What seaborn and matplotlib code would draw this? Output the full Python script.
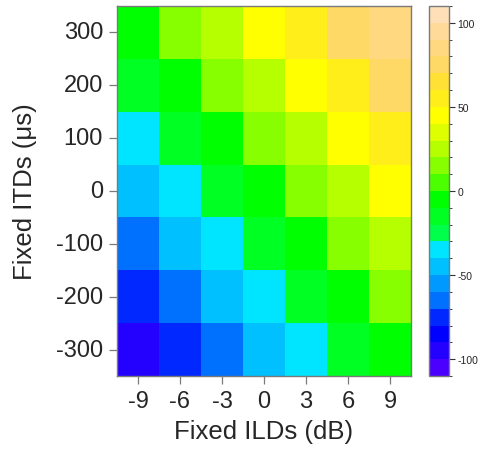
import numpy as np
import pandas as pd
import matplotlib
matplotlib.use("Agg")
import matplotlib.pyplot as plt
from matplotlib.colors import ListedColormap, BoundaryNorm
import seaborn as sns

# ---- data ----
ilds = [-9, -6, -3, 0, 3, 6, 9]                       # Fixed ILDs (dB), columns
itds = [300, 200, 100, 0, -100, -200, -300]            # Fixed ITDs (us), rows top->bottom
row_300 = [-4, 14, 26, 46, 56, 76, 86]
row_200 = [-14, -5, 15, 24, 44, 55, 74]
row_100 = [-36, -15, -6, 16, 26, 45, 56]
row_0 = [-45, -35, -14, -4, 14, 24, 46]
row_m100 = [-66, -44, -34, -15, -6, 15, 26]
row_m200 = [-76, -64, -46, -36, -16, -5, 16]
row_m300 = [-95, -74, -65, -45, -35, -15, -4]
cbar_ticks = [-100, -50, 0, 50, 100]

# ---- palette (22 discrete bands of 10 units from -110 to 110) ----
band_colors = [
    "#4B00FF", "#2400FF", "#0000FF", "#0028FF", "#0070FF", "#0099FF",
    "#00C0FF", "#00E5FF", "#00FF4A", "#00FF22", "#00FF00", "#4CFF00",
    "#88FF00", "#B5FF00", "#DDFF00", "#FFFF00", "#FFEE1A", "#FFE035",
    "#FFD966", "#FFD880", "#FFDA99", "#FFDFB8",
]
bounds = list(range(-110, 111, 10))
cmap = ListedColormap(band_colors)
norm = BoundaryNorm(bounds, cmap.N)

df = pd.DataFrame([row_300, row_200, row_100, row_0, row_m100, row_m200, row_m300],
                  index=itds, columns=ilds)

sns.set_style("white")
plt.rcParams["font.family"] = ["Liberation Sans", "DejaVu Sans"]
plt.rcParams["axes.unicode_minus"] = False

W, H = 481, 452
fig = plt.figure(figsize=(W / 100, H / 100), dpi=100)
ax = fig.add_axes([117 / W, 1 - 377 / H, 294 / W, 370 / H])
cax = fig.add_axes([429 / W, 1 - 377 / H, 20 / W, 370 / H])

sns.heatmap(df, ax=ax, cmap=cmap, norm=norm, cbar=True, cbar_ax=cax,
            linewidths=0, square=False,
            cbar_kws={"ticks": cbar_ticks})

frame_col = "#7a7a7a"
for sp in ax.spines.values():
    sp.set_visible(True)
    sp.set_color(frame_col)
    sp.set_linewidth(1.0)

ax.set_yticklabels([str(v) for v in itds], rotation=0)
ax.set_xticklabels([str(v) for v in ilds], rotation=0)
ax.tick_params(axis="both", which="major", labelsize=17, length=6,
               width=0.9, color=frame_col, pad=4, direction="out",
               left=True, bottom=True)
ax.set_xlabel("Fixed ILDs (dB)", fontsize=18.5, labelpad=5)
ax.set_ylabel("Fixed ITDs (\u03bcs)", fontsize=18.5, labelpad=14)

cbar = ax.collections[0].colorbar
cbar.set_ticks(cbar_ticks)
cbar.set_ticklabels([str(t) for t in cbar_ticks])
cbar.ax.tick_params(labelsize=7.5, length=4, width=0.8, color="#333333", pad=2)
cbar.outline.set_edgecolor(frame_col)
cbar.outline.set_linewidth(1.0)
cax.set_ylim(-110, 110)

fig.savefig("out.png", dpi=100)
